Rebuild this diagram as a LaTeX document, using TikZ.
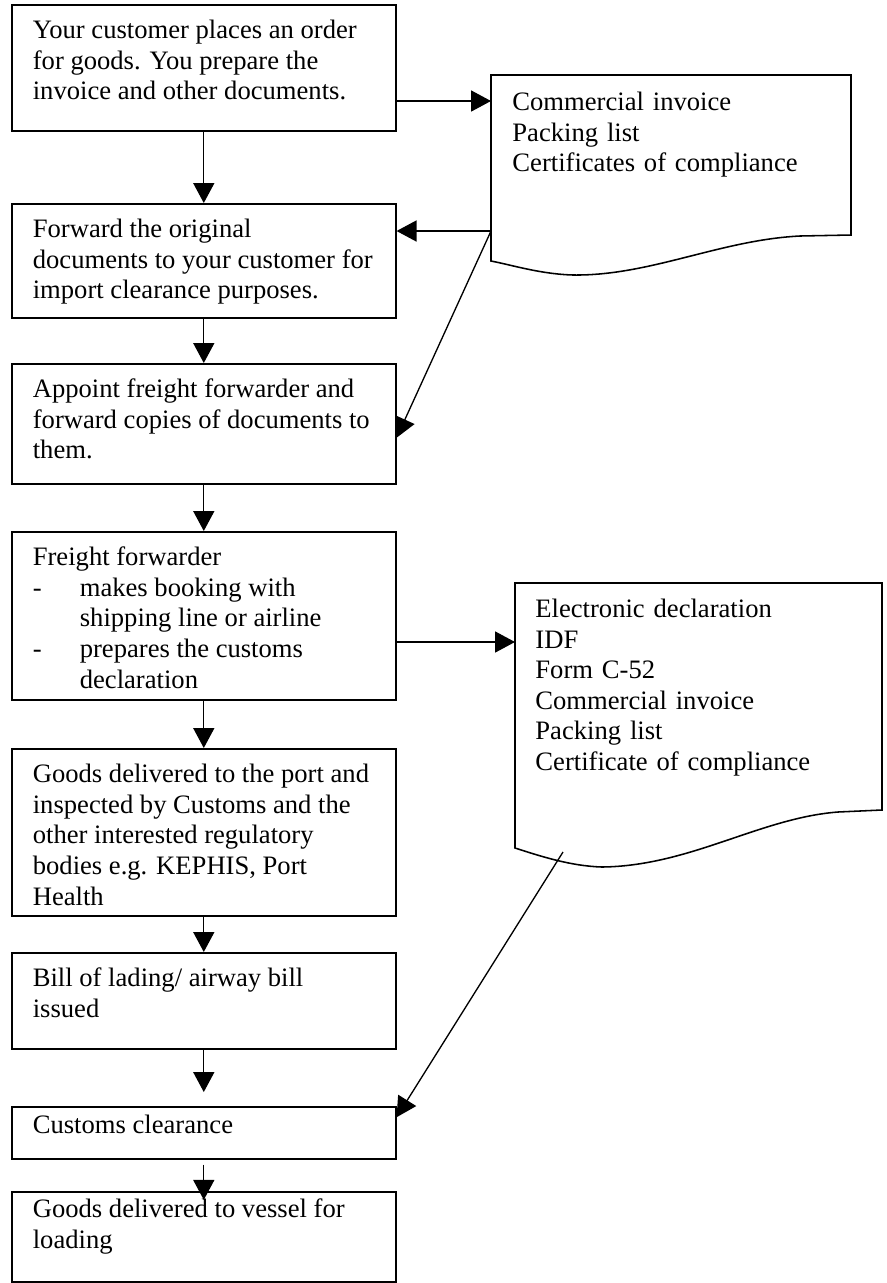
\documentclass[tikz,border=0pt]{standalone}
\usepackage{fontspec}
\setmainfont{Liberation Serif}
\usetikzlibrary{arrows.meta}

\tikzset{
  stepbox/.style={draw, line width=0.7pt, anchor=north west, text width=154.2pt, align=justify,
    inner xsep=9.5pt, inner ysep=6pt, text height=9.3pt, font=\fontsize{12}{13.8}\selectfont},
  doctext/.style={anchor=north west, text width=170pt, align=left, inner sep=0pt,
    text height=9pt, font=\fontsize{12}{13.8}\selectfont},
  docshape/.style={draw, line width=0.7pt},
  flow/.style={line width=0.6pt, -{Triangle[length=9pt,width=9.5pt]}}
}
\newcommand{\dashitem}{\makebox[21.2pt][l]{-}}
\newcommand{\dashgap}{\hspace*{21.2pt}}

\begin{document}
\begin{tikzpicture}[x=0.451pt, y=-0.451pt]
  \useasboundingbox (0,0) rectangle (886,1283);

  % steps down the left
  \node[stepbox, text depth=35.53pt] (b1) at (11,4) {Your customer places an order\\for goods. You prepare the\\invoice and other documents.};
  \node[stepbox, text depth=30.11pt] (b2) at (11,203) {Forward the original\\documents to your customer for\\import clearance purposes.};
  \node[stepbox, text depth=32.82pt] (b3) at (11,363) {Appoint freight forwarder and\\forward copies of documents to\\them.};
  \node[stepbox, text depth=54.47pt] (b4) at (11,531) {Freight forwarder\\\dashitem makes booking with\\\dashgap shipping line or airline\\\dashitem prepares the customs\\\dashgap declaration};
  \node[stepbox, text depth=54.02pt] (b5) at (11,748) {Goods delivered to the port and\\inspected by Customs and the\\other interested regulatory\\bodies e.g. KEPHIS, Port\\Health};
  \node[stepbox, text depth=22.0pt] (b6) at (11,952) {Bill of lading/ airway bill\\issued};
  \node[stepbox, text height=6.18pt, text depth=5.27pt] (b7) at (11,1106) {Customs clearance};
  \node[stepbox, text height=5.73pt, text depth=22.86pt] (b8) at (11,1191) {Goods delivered to vessel for\\loading};

  % document shapes
  \draw[docshape] (491,75) -- (851,75) -- (851,235) -- (800,236) .. controls (720,240) and (650,276) .. (573,275)
    .. controls (540,274) and (512,265) .. (491,261) -- cycle; % first set of papers
  \node[doctext] (d1) at (512,90) {Commercial invoice\\Packing list\\Certificates of compliance};
  \draw[docshape] (515,583) -- (882,583) -- (882,810) -- (838,812) .. controls (760,818) and (690,866) .. (602,867)
    .. controls (570,866) and (540,856) .. (515,848) -- cycle; % declaration papers
  \node[doctext] (d2) at (535,597) {Electronic declaration\\IDF\\Form C-52\\Commercial invoice\\Packing list\\Certificate of compliance};

  \coordinate (d1in) at (491,101);
  \coordinate (d1out) at (491,231);
  \coordinate (d2in) at (515,642);
  \coordinate (d2out) at (563,852);

  % main flow
  \draw[flow] (b1) -- (b2);
  \draw[flow] (b2) -- (b3);
  \draw[flow] (b3) -- (b4);
  \draw[flow] (b4) -- (b5);
  \draw[flow] (b5) -- (b6);
  \draw[flow] (b6.south) -- ([yshift=6.3pt]b7.north);
  \draw[flow] ([yshift=-2.3pt]b7.south) -- ([yshift=-4pt]b8.north);

  % papers in and out
  \draw[flow] (b1.east |- d1in) -- (d1in);
  \draw[flow] (d1out) -- (b2.east |- d1out);
  \draw[flow] (d1out) -- ([yshift=-6.3pt]b3.east);
  \draw[flow] (b4.east |- d2in) -- (d2in);
  \draw[flow] (d2out) -- ([yshift=7pt]b7.east);
\end{tikzpicture}
\end{document}
